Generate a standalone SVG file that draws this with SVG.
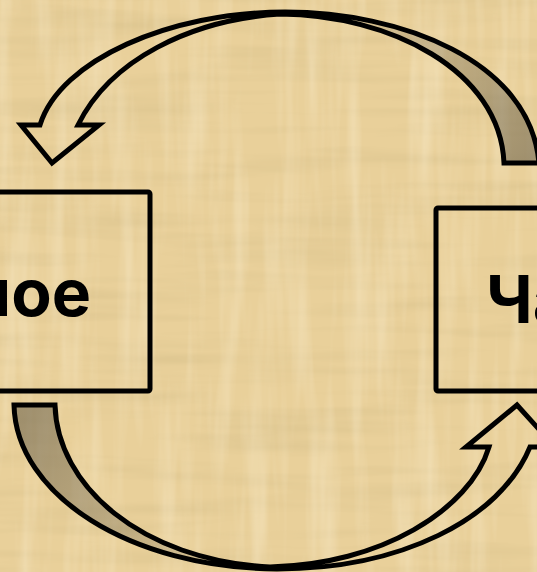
<svg xmlns="http://www.w3.org/2000/svg" width="537" height="572" viewBox="0 0 537 572">
  <style>
    .box { fill: none; stroke: #000; stroke-width: 5; }
    .arrow { fill: none; stroke: #000; stroke-width: 5; stroke-linejoin: miter; }
    .lbl { font-family: Inter, "Noto Sans", "DejaVu Sans", sans-serif; font-weight: 700; font-size: 66px; fill: #000; }
  </style>
  <defs>
    <filter id="fibH" x="0" y="0" width="100%" height="100%">
      <feTurbulence type="fractalNoise" baseFrequency="0.005 0.06" numOctaves="3" seed="3"/>
      <feColorMatrix type="matrix" values="0 0 0 0 0.6  0 0 0 0 0.47  0 0 0 0 0.22  0.7 0 0 0 -0.3"/>
    </filter>
    <filter id="fibV" x="0" y="0" width="100%" height="100%">
      <feTurbulence type="fractalNoise" baseFrequency="0.06 0.005" numOctaves="3" seed="11"/>
      <feColorMatrix type="matrix" values="0 0 0 0 1  0 0 0 0 0.93  0 0 0 0 0.75  0.7 0 0 0 -0.3"/>
    </filter>
    <linearGradient id="shTop" gradientUnits="userSpaceOnUse" x1="525" y1="163" x2="330" y2="12">
      <stop offset="0" stop-color="#706650" stop-opacity="0.6"/>
      <stop offset="1" stop-color="#706650" stop-opacity="0.08"/>
    </linearGradient>
    <linearGradient id="shBot" gradientUnits="userSpaceOnUse" x1="35" y1="405" x2="265" y2="568">
      <stop offset="0" stop-color="#706650" stop-opacity="0.6"/>
      <stop offset="1" stop-color="#706650" stop-opacity="0.08"/>
    </linearGradient>
  </defs>

  <rect width="537" height="572" fill="#e9d09a"/>
  <rect width="537" height="572" filter="url(#fibH)"/>
  <rect width="537" height="572" filter="url(#fibV)"/>

  <g id="node-whole">
    <rect class="box" x="-60" y="192" width="210" height="199" rx="2"/>
    <text class="lbl" x="91" y="316" text-anchor="end">лое</text>
  </g>
  <g id="node-part">
    <rect class="box" x="436" y="208" width="200" height="183" rx="2"/>
    <text class="lbl" x="486" y="323">Ча</text>
  </g>

  <g id="connectors">
    <g id="arrow-top">
      <path d="M285,12 C400,12 530,60 539,163 L504,163 C500,70 390,15 280,14 Z" fill="url(#shTop)"/>
      <path class="arrow" d="M52,163 L21,125 L40,125 C60,60 170,12 285,12 C400,12 530,60 539,163 L504,163 C500,70 390,15 280,14 C190,20 110,60 78,125 L99,125 Z"/>
    </g>
    <g id="arrow-bottom">
      <path d="M14,405 C16,495 130,568 277,569 L270,567 C140,560 57,485 55,405 Z" fill="url(#shBot)"/>
      <path class="arrow" d="M517,405 L555,447 L530,447 C500,520 400,569 277,569 C130,568 16,495 14,405 L55,405 C57,485 140,560 270,567 C380,565 470,510 489,447 L466,447 Z"/>
    </g>
  </g>
</svg>
